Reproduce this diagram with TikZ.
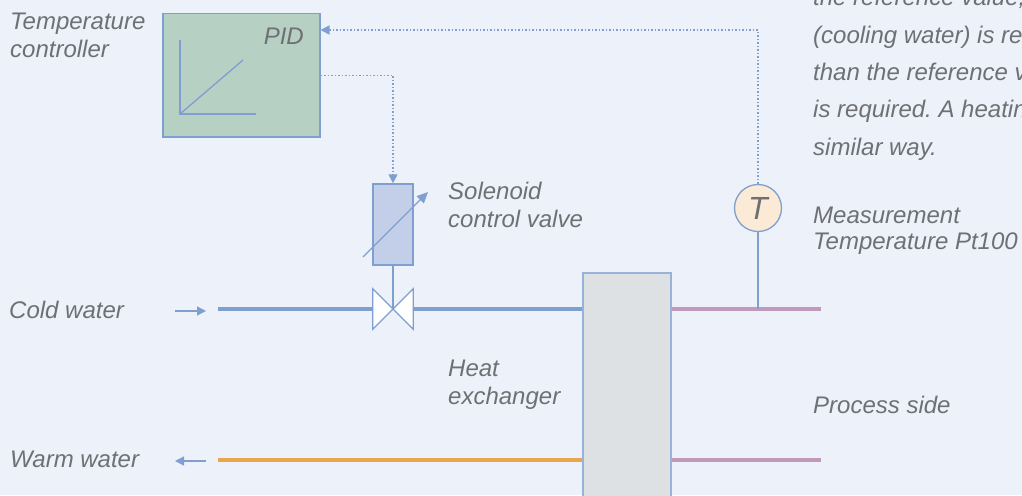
\documentclass[tikz,border=0pt]{standalone}
\usepackage{fontspec}
\setmainfont{Liberation Sans}
\usetikzlibrary{arrows.meta}
\definecolor{bgc}{HTML}{EDF1FA}
\definecolor{linec}{HTML}{7F9FD0}
\definecolor{txtc}{HTML}{6E7074}
\definecolor{pidc}{HTML}{B7D0C4}
\definecolor{actc}{HTML}{C3CFE8}
\definecolor{hxc}{HTML}{DDE1E3}
\definecolor{warmc}{HTML}{E9A64C}
\definecolor{procc}{HTML}{C09ABA}
\definecolor{tmpc}{HTML}{FBEAD5}
\frenchspacing

\begin{document}
\begin{tikzpicture}[x=1pt, y=-1pt, >={Triangle[length=9pt,width=9pt]},
        lbl/.style={text=txtc, font=\itshape\fontsize{24}{27.5}\selectfont, align=left, anchor=base west, inner sep=0pt},
        box/.style={draw=linec, line width=1.5pt, inner sep=0pt},
        pipe/.style={line width=4.5pt},
        sig/.style={draw=linec, line width=1.5pt, dash pattern=on 1.5pt off 2pt},
        thinline/.style={draw=linec, line width=1.3pt}]
        \fill[bgc] (0,0) rectangle (1022,495);
        \useasboundingbox (0,0) rectangle (1022,495);

        % controller
        \node[box, fill=pidc, minimum width=157pt, minimum height=123pt, anchor=north west] (pid) at (162,13) {};
        \node[lbl, anchor=base east] (pidlbl) at (304,45) {PID};
        \draw[thinline] (180,40) |- (256,114);
        \draw[thinline] (180,114) -- (243,60);

        % valve
        \node[box, fill=actc, minimum width=40pt, minimum height=81pt] (act) at (393,224.5) {};
        \node[minimum size=40pt, inner sep=0pt] (vlv) at (393,309) {};
        \coordinate (cw) at (218,309);
        \coordinate (ww) at (218,460);
        \coordinate (pout) at (821,309);
        \coordinate (pin) at (821,460);

        % pipes
        \draw[pipe, linec] (cw) -- (vlv.west) (vlv.east) -- (vlv.east -| 582,0);
        \draw[pipe, warmc] (582,460) -- (ww);
        \node[draw=linec!80, line width=1.5pt, fill=hxc, minimum width=88pt, minimum height=230pt, anchor=north west, inner sep=0pt] (hx) at (582,272) {};
        \draw[pipe, procc] (hx.east |- pout) -- (pout) (hx.east |- pin) -- (pin);

        \draw[thinline] (act.south) -- (vlv.center);
        \draw[thinline, fill=white] (vlv.north west) -- (vlv.south east) -- (vlv.north east) -- (vlv.south west) -- cycle;
        \draw[thinline, ->, >={Triangle[length=11pt,width=10pt]}] (363,257) -- (428,192);

        % sensor
        \node[circle, draw=linec, line width=1.3pt, fill=tmpc, minimum size=47pt, inner sep=0pt, text=txtc, font=\itshape\fontsize{32}{32}\selectfont] (tmp) at (758,208) {T};
        \draw[thinline] (tmp.south) -- (tmp.south |- pout);

        % signals
        \draw[sig, ->] (tmp.north) |- ([yshift=-17pt]pid.north east);
        \draw[sig, ->] (pid.east) -| (act.north);

        \coordinate (cwa) at (175,311);
        \coordinate (cwb) at (206,311);
        \coordinate (wwa) at (206,461);
        \coordinate (wwb) at (175,461);
        \draw[thinline, ->] (cwa) -- (cwb);
        \draw[thinline, ->] (wwa) -- (wwb);

        % labels
        \node[lbl] (tclbl) at (10,57) {Temperature\\controller};
        \node[lbl] (vlvlbl) at (448,227) {Solenoid\\control valve};
        \node[lbl, font=\itshape\fontsize{24}{26}\selectfont] (tmplbl) at (813,249) {Measurement\\Temperature Pt100};
        \node[lbl] (cwlbl) at (9,318) {Cold water};
        \node[lbl] (wwlbl) at (10,467) {Warm water};
        \node[lbl] (hxlbl) at (448,404) {Heat\\exchanger};
        \node[lbl] (proclbl) at (813,413) {Process side};
        \node[lbl, font=\itshape\fontsize{24}{37.3}\selectfont] (note) at (813,155) {the reference value,\\(cooling water) is re\\than the reference v\\is required. A heatin\\similar way.};
\end{tikzpicture}
\end{document}
